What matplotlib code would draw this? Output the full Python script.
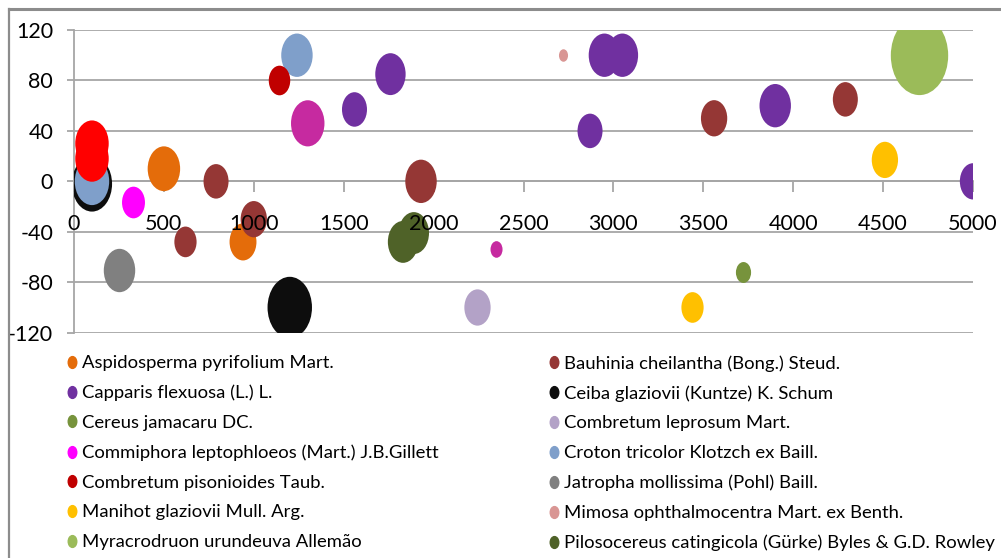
import numpy as np
import matplotlib
matplotlib.use('Agg')
import matplotlib.pyplot as plt
from matplotlib.path import Path
from matplotlib.transforms import Affine2D
from matplotlib.lines import Line2D

plt.rcParams['font.family'] = ['Lato', 'DejaVu Sans']
plt.rcParams['axes.unicode_minus'] = False

# species in legend order (reading across rows)
species = [
    'Aspidosperma pyrifolium Mart.', 'Bauhinia cheilantha (Bong.) Steud.',
    'Capparis flexuosa (L.) L.', 'Ceiba glaziovii (Kuntze) K. Schum',
    'Cereus jamacaru DC.', 'Combretum leprosum Mart.',
    'Commiphora leptophloeos (Mart.) J.B.Gillett', 'Croton tricolor Klotzch ex Baill.',
    'Combretum pisonioides Taub.', 'Jatropha mollissima (Pohl) Baill.',
    'Manihot glaziovii Mull. Arg.', 'Mimosa ophthalmocentra Mart. ex Benth.',
    'Myracrodruon urundeuva Allemão', 'Pilosocereus catingicola (Gürke) Byles & G.D. Rowley',
]
colors = ['#E46C0A', '#953735', '#7030A0', '#0D0D0D', '#77933C', '#B3A2C7', '#FF00FF',
          '#7F9FCA', '#C00000', '#808080', '#FFC000', '#D99694', '#9BBB59', '#4F6228']

# x, y, bubble size for each species
xs = [[500, 940], [790, 620, 1000, 1930, 3560, 4290],
      [1560, 1760, 2950, 3050, 2870, 3900, 5000], [100, 1200], [3720], [2240], [330],
      [1240, 100], [1140], [250], [4510, 3440], [2720], [4700], [1830, 1890]]
ys = [[10, -48], [0, -48, -30, 0, 50, 65],
      [57, 85, 100, 100, 40, 60, 0], [-2, -100], [-72], [-100], [-16],
      [100, 0], [80], [-70], [17, -100], [100], [100], [-48, -41]]
sizes = [[32, 22], [19, 15, 21, 30, 21, 19],
         [19, 28, 30, 30, 19, 30, 21], [49, 60], [7], [21], [16],
         [30, 36], [14], [30], [21, 15], [2.5], [100], [28, 28]]

# series without a visible legend entry
extra_colors = ['#FF0000', '#C62AA0']
extra_x = [[100, 100], [1300, 2350]]
extra_y = [[30, 18], [46, -54]]
extra_sizes = [[34, 34], [34, 4.4]]

xticks = [0, 500, 1000, 1500, 2000, 2500, 3000, 3500, 4000, 4500, 5000]
yticks = [-120, -80, -40, 0, 40, 80, 120]

# bubbles look taller than wide in the original
ell = Affine2D().scale(1, 1.38).transform_path(Path.unit_circle())
k = 32.5
grid_c = '#A6A6A6'

fig = plt.figure(figsize=(10.01, 5.58), dpi=100)
ax = fig.add_axes([74 / 1001, 1 - 332.7 / 558, (973 - 74) / 1001, (332.7 - 30) / 558])

for yv in yticks:
    ax.axhline(yv, color=grid_c, lw=1.3, zorder=0.4)

for i in range(len(species)):
    ax.scatter(xs[i], ys[i], s=np.array(sizes[i]) * k, marker=ell, color=colors[i],
               linewidths=0, zorder=1)
for i in range(len(extra_colors)):
    ax.scatter(extra_x[i], extra_y[i], s=np.array(extra_sizes[i]) * k, marker=ell,
               color=extra_colors[i], linewidths=0, zorder=1)

ax.set_xlim(0, 5000)
ax.set_ylim(-120, 120)
ax.set_axisbelow(True)
for s in ['top', 'right']:
    ax.spines[s].set_visible(False)
ax.spines['bottom'].set_position(('data', 0))
for s in ['left', 'bottom']:
    ax.spines[s].set_color(grid_c)
    ax.spines[s].set_linewidth(1.3)
    ax.spines[s].set_zorder(0.5)
ax.set_xticks(xticks)
ax.set_yticks(yticks)
ax.tick_params(axis='x', direction='out', length=8, color=grid_c, width=1.3, labelbottom=False)
ax.tick_params(axis='y', direction='out', length=5, color=grid_c, width=1.3,
               labelsize=15.5, pad=10)

# x tick labels sit over the bubbles
for xv in xticks:
    ax.annotate(str(xv), (xv, 0), xytext=(0, -30.5), textcoords='offset points',
                ha='center', va='center', fontsize=15.5, zorder=5)

# legend in two columns
handles = [Line2D([], [], ls='none', marker=ell, markersize=8.5, color=c) for c in colors]
for col, x0 in enumerate([67.5 / 1001, 549.5 / 1001]):
    fig.legend(handles[col::2], species[col::2], loc='upper left',
               bbox_to_anchor=(x0, 1 - 355 / 558), frameon=False, fontsize=13.3,
               handlelength=0.5, handletextpad=0.3, borderpad=0, borderaxespad=0,
               labelspacing=0.74)

# outer chart frame
fig.add_artist(Line2D([9 / 1001, 1], [1 - 8.5 / 558] * 2, color='#8C8C8C', lw=2.2))
fig.add_artist(Line2D([9 / 1001] * 2, [0, 1 - 8.5 / 558], color='#8C8C8C', lw=1.6))

fig.savefig('out.png', dpi=100)
